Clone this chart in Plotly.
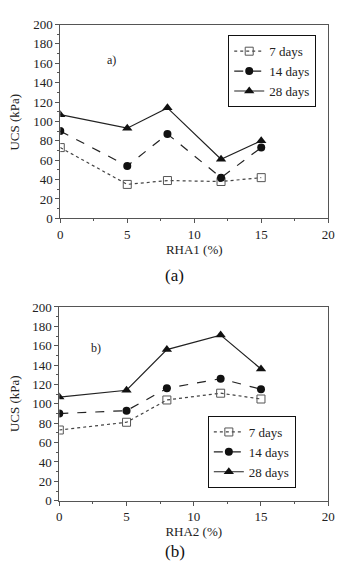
import plotly.graph_objects as go

rha = [0, 5, 8, 12, 15]
a_7 = [73, 35, 39, 38, 42]
a_14 = [90, 54, 87, 42, 73]
a_28 = [107, 93, 114, 61, 80]
b_7 = [73, 81, 104, 111, 105]
b_14 = [90, 93, 116, 126, 115]
b_28 = [107, 114, 156, 171, 136]
series_names = ["7 days", "14 days", "28 days"]
x_ticks = [0, 5, 10, 15, 20]
y_ticks = list(range(0, 201, 20))

W, H = 342, 574
FONT = "Liberation Serif, Times New Roman, serif"
INK = "#222222"

styles = [
    dict(line=dict(color="#444444", width=1.2, dash="dot"),
         marker=dict(symbol="square-open", size=8, color="#555555", line=dict(width=1))),
    dict(line=dict(color="#222222", width=1.2, dash="dash"),
         marker=dict(symbol="circle", size=8, color="#111111")),
    dict(line=dict(color="#222222", width=1.2, dash="solid"),
         marker=dict(symbol="triangle-up", size=9, color="#111111")),
]

fig = go.Figure()
for i, (ys, nm) in enumerate(zip([a_7, a_14, a_28], series_names)):
    fig.add_trace(go.Scatter(x=rha, y=ys, name=nm, mode="lines+markers",
                             xaxis="x", yaxis="y", legend="legend", **styles[i]))
for i, (ys, nm) in enumerate(zip([b_7, b_14, b_28], series_names)):
    fig.add_trace(go.Scatter(x=rha, y=ys, name=nm, mode="lines+markers",
                             xaxis="x2", yaxis="y2", legend="legend2", **styles[i]))

def px_x(p):
    return p / W

def px_y(p):
    return 1 - p / H

axis_common = dict(
    showline=True, linecolor="#555555", linewidth=1, mirror=True,
    ticks="outside", ticklen=4, tickwidth=1, tickcolor="#555555",
    showgrid=False, zeroline=False,
    tickfont=dict(family=FONT, size=13, color=INK),
    minor=dict(ticks="outside", ticklen=2, tickwidth=1, tickcolor="#555555", showgrid=False),
)

def title(text, standoff):
    return dict(text=text, font=dict(family=FONT, size=13, color=INK), standoff=standoff)

fig.update_layout(
    width=W, height=H,
    margin=dict(l=0, r=0, t=0, b=0),
    paper_bgcolor="white", plot_bgcolor="white",
    font=dict(family=FONT, color=INK, size=13),
    xaxis=dict(domain=[px_x(59), px_x(335)], range=[0, 20], tickvals=x_ticks,
               minor_dtick=2.5, anchor="y", title=title("RHA1 (%)", 1), **axis_common),
    yaxis=dict(domain=[px_y(217), px_y(18)], range=[0, 200], tickvals=y_ticks,
               minor_dtick=10, anchor="x", **axis_common),
    xaxis2=dict(domain=[px_x(58), px_x(335)], range=[0, 20], tickvals=x_ticks,
                minor_dtick=2.5, anchor="y2", title=title("RHA2 (%)", 1), **axis_common),
    yaxis2=dict(domain=[px_y(507), px_y(308)], range=[0, 200], tickvals=y_ticks,
                minor_dtick=10, anchor="x2", **axis_common),
    legend=dict(x=px_x(232), y=px_y(29), xanchor="left", yanchor="top",
                bgcolor="white", bordercolor="#111111", borderwidth=1,
                font=dict(family=FONT, size=13, color=INK),
                tracegroupgap=0, itemwidth=30),
    legend2=dict(x=px_x(211), y=px_y(420), xanchor="left", yanchor="top",
                 bgcolor="white", bordercolor="#111111", borderwidth=1,
                 font=dict(family=FONT, size=13, color=INK),
                 tracegroupgap=0, itemwidth=30),
    showlegend=True,
    annotations=[
        dict(text="UCS (kPa)", x=px_x(12), y=px_y(118), xref="paper", yref="paper",
             xanchor="center", yanchor="middle", textangle=-90, showarrow=False,
             font=dict(family=FONT, size=13, color=INK)),
        dict(text="UCS (kPa)", x=px_x(12), y=px_y(407), xref="paper", yref="paper",
             xanchor="center", yanchor="middle", textangle=-90, showarrow=False,
             font=dict(family=FONT, size=13, color=INK)),
        dict(text="a)", x=px_x(112), y=px_y(54), xref="paper", yref="paper",
             xanchor="center", yanchor="middle", showarrow=False,
             font=dict(family=FONT, size=12, color=INK)),
        dict(text="b)", x=px_x(96), y=px_y(350), xref="paper", yref="paper",
             xanchor="center", yanchor="middle", showarrow=False,
             font=dict(family=FONT, size=12, color=INK)),
        dict(text="(a)", x=px_x(177), y=px_y(276), xref="paper", yref="paper",
             xanchor="center", yanchor="middle",
             showarrow=False, font=dict(family=FONT, size=17, color="#111111")),
        dict(text="(b)", x=px_x(177), y=px_y(559), xref="paper", yref="paper",
             xanchor="center", yanchor="middle",
             showarrow=False, font=dict(family=FONT, size=17, color="#111111")),
    ],
)

fig.write_html("out.html")
